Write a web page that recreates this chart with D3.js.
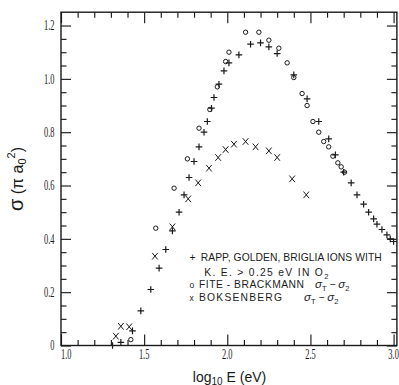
<!DOCTYPE html>
<html>
<head>
<meta charset="utf-8">
<script src="https://cdn.jsdelivr.net/npm/d3@7"></script>
<style>
  html, body { margin: 0; padding: 0; background: #fff; }
  svg { display: block; }
  .lg { font-family: "Liberation Sans", Arial, sans-serif; font-size: 10.3px; fill: #1c1c1c; }
</style>
</head>
<body>
<svg id="chart" width="399" height="385"></svg>
<script>
// Cross section sigma (units of pi a0^2) against log10 of ion energy (eV)
const rappLogE = [1.31, 1.36, 1.43, 1.48, 1.54, 1.59, 1.63, 1.67, 1.71, 1.74, 1.77, 1.80, 1.83, 1.86, 1.88,
  1.905, 1.92, 1.95, 1.98, 2.01, 2.07, 2.14, 2.20, 2.25, 2.30, 2.40, 2.48, 2.55, 2.61, 2.65, 2.70,
  2.745, 2.78, 2.82, 2.85, 2.88, 2.90, 2.93, 2.96, 2.98, 3.00];
const rappSigma = [0.0, 0.012, 0.055, 0.13, 0.21, 0.29, 0.36, 0.43, 0.50, 0.565, 0.63, 0.69, 0.745, 0.80, 0.84,
  0.89, 0.93, 0.98, 1.03, 1.06, 1.09, 1.13, 1.135, 1.12, 1.095, 1.015, 0.925, 0.84, 0.775, 0.715, 0.65,
  0.61, 0.565, 0.53, 0.50, 0.475, 0.455, 0.435, 0.415, 0.40, 0.39];

const fiteLogE = [1.42, 1.57, 1.68, 1.76, 1.83, 1.895, 1.94, 1.99, 2.01, 2.11, 2.19, 2.25, 2.31, 2.36, 2.40,
  2.45, 2.48, 2.515, 2.55, 2.58, 2.61, 2.635, 2.665, 2.685, 2.705];
const fiteSigma = [0.022, 0.44, 0.59, 0.70, 0.815, 0.885, 0.97, 1.065, 1.10, 1.175, 1.175, 1.145, 1.115, 1.06, 1.005,
  0.945, 0.90, 0.84, 0.80, 0.765, 0.745, 0.71, 0.685, 0.67, 0.65];

const boksLogE = [1.33, 1.36, 1.41, 1.565, 1.67, 1.765, 1.825, 1.89, 1.945, 1.99, 2.04, 2.11, 2.17, 2.25, 2.30, 2.39, 2.475];
const boksSigma = [0.035, 0.072, 0.07, 0.335, 0.445, 0.55, 0.61, 0.665, 0.705, 0.735, 0.755, 0.765, 0.745, 0.73, 0.705, 0.625, 0.565];

const xTickValues = [1.0, 1.5, 2.0, 2.5, 3.0];
const xTickLabels = ["1.0", "1.5", "2.0", "2.5", "3.0"];
const yTickValues = [0, 0.2, 0.4, 0.6, 0.8, 1.0, 1.2];
const yTickLabels = ["0", "0.2", "0.4", "0.6", "0.8", "1.0", "1.2"];

const legendLines = ["RAPP, GOLDEN, BRIGLIA IONS WITH", "K. E. > 0.25 eV IN O", "FITE - BRACKMANN", "BOKSENBERG"];

const ink = "#1a1a1a";
const svg = d3.select("#chart");

const x = d3.scaleLinear().domain([1.0, 3.02]).range([61, 396.9]);
const y = d3.scaleLinear().domain([0, 1.25]).range([345.5, 12.2]);

const xMinor = d3.range(1.1, 3.0, 0.1).map(v => +v.toFixed(2)).filter(v => !xTickValues.some(t => Math.abs(t - v) < 1e-6));
const yMinor = d3.range(0.05, 1.25, 0.05).map(v => +v.toFixed(2)).filter(v => !yTickValues.some(t => Math.abs(t - v) < 1e-6));

function tickAxis(axis, translate) {
  const g = svg.append("g").attr("transform", translate).call(axis.tickFormat(() => "").tickSizeOuter(0));
  g.select(".domain").remove();
  g.selectAll("line").attr("stroke", ink).attr("stroke-width", 1.15);
}

// inward ticks on all four sides
tickAxis(d3.axisBottom(x).tickValues(xTickValues).tickSizeInner(-11), `translate(0,${y(0)})`);
tickAxis(d3.axisBottom(x).tickValues(xMinor).tickSizeInner(-5.5), `translate(0,${y(0)})`);
tickAxis(d3.axisTop(x).tickValues(xTickValues).tickSizeInner(-11), `translate(0,${y(1.25)})`);
tickAxis(d3.axisTop(x).tickValues(xMinor).tickSizeInner(-5.5), `translate(0,${y(1.25)})`);
tickAxis(d3.axisLeft(y).tickValues(yTickValues).tickSizeInner(-10), `translate(${x(1.0)},0)`);
tickAxis(d3.axisLeft(y).tickValues(yMinor).tickSizeInner(-5.5), `translate(${x(1.0)},0)`);
tickAxis(d3.axisRight(y).tickValues(yTickValues).tickSizeInner(-10), `translate(${x(3.02)},0)`);
tickAxis(d3.axisRight(y).tickValues(yMinor).tickSizeInner(-5.5), `translate(${x(3.02)},0)`);

// frame
svg.append("rect")
  .attr("x", x(1.0)).attr("y", y(1.25))
  .attr("width", x(3.02) - x(1.0)).attr("height", y(0) - y(1.25))
  .attr("fill", "none").attr("stroke", ink).attr("stroke-width", 1.4);

// tick labels in a narrow serif face
const tickFont = "'Liberation Serif', 'Times New Roman', serif";
svg.append("g").selectAll("text").data(xTickValues).join("text")
  .attr("transform", (d, i) => `translate(${x(d)},359) scale(0.6,1)`)
  .attr("text-anchor", (d, i) => i === 0 ? "start" : "middle")
  .attr("font-family", tickFont).attr("font-size", 14).attr("fill", ink)
  .text((d, i) => xTickLabels[i]);

svg.append("g").selectAll("text").data(yTickValues).join("text")
  .attr("transform", d => `translate(54.5,${y(d) + 4.8}) scale(0.6,1)`)
  .attr("text-anchor", "end")
  .attr("font-family", tickFont).attr("font-size", 14).attr("fill", ink)
  .text((d, i) => yTickLabels[i]);

// axis titles
const xt = svg.append("text")
  .attr("x", 229.5).attr("y", 381.5).attr("text-anchor", "middle")
  .attr("font-family", "'Liberation Sans', Arial, sans-serif").attr("font-size", 14).attr("fill", ink);
xt.append("tspan").text("log");
xt.append("tspan").attr("font-size", 10).attr("dy", 3).text("10");
xt.append("tspan").attr("dy", -3).text(" E (eV)");

const yt = svg.append("text")
  .attr("transform", "translate(23,179) rotate(-90)").attr("text-anchor", "middle")
  .attr("font-family", "'Liberation Sans', Arial, sans-serif").attr("font-size", 16).attr("fill", ink);
yt.append("tspan").attr("font-size", 20).text("σ");
yt.append("tspan").text(" (π a");
yt.append("tspan").attr("font-size", 11).attr("dy", 3).text("0");
yt.append("tspan").attr("font-size", 11).attr("dy", -11).text("2");
yt.append("tspan").attr("dy", 8).text(")");

// markers
const plusPath = "M-3.3,0H3.3M0,-3.3V3.3";
const crossPath = "M-2.8,-3.3L2.8,3.3M2.8,-3.3L-2.8,3.3";

svg.append("g").selectAll("path").data(rappLogE).join("path")
  .attr("transform", (d, i) => `translate(${x(d)},${y(rappSigma[i])})`)
  .attr("d", plusPath).attr("stroke", ink).attr("stroke-width", 1.2).attr("fill", "none");

svg.append("g").selectAll("circle").data(fiteLogE).join("circle")
  .attr("cx", d => x(d)).attr("cy", (d, i) => y(fiteSigma[i])).attr("r", 2.2)
  .attr("stroke", ink).attr("stroke-width", 1).attr("fill", "none");

svg.append("g").selectAll("path").data(boksLogE).join("path")
  .attr("transform", (d, i) => `translate(${x(d)},${y(boksSigma[i])})`)
  .attr("d", crossPath).attr("stroke", ink).attr("stroke-width", 1).attr("fill", "none");

// legend
const lg = svg.append("g").attr("class", "lg");
lg.append("text").attr("x", 189.5).attr("y", 260.5).text("+");
lg.append("text").attr("x", 200.7).attr("y", 260.5).attr("textLength", 181).attr("lengthAdjust", "spacing").text(legendLines[0]);
const l2 = lg.append("text").attr("x", 204.3).attr("y", 276).attr("textLength", 124).attr("lengthAdjust", "spacing");
l2.append("tspan").text(legendLines[1]);
l2.append("tspan").attr("font-size", 7.5).attr("dy", 2.5).text("2");
lg.append("text").attr("x", 189.5).attr("y", 288).attr("font-size", 8.5).text("o");
lg.append("text").attr("x", 199).attr("y", 288).attr("textLength", 105).attr("lengthAdjust", "spacing").text(legendLines[2]);
lg.append("text").attr("x", 189.5).attr("y", 301).attr("font-size", 8.5).text("x");
lg.append("text").attr("x", 199).attr("y", 301).attr("textLength", 83).attr("lengthAdjust", "spacing").text(legendLines[3]);

function sigmaDiff(x0, yb) {
  const t = lg.append("text").attr("x", x0).attr("y", yb);
  t.append("tspan").attr("font-style", "italic").attr("font-size", 11.5).text("σ");
  t.append("tspan").attr("font-size", 7.5).attr("dy", 2.5).text("T");
  t.append("tspan").attr("dy", -2.5).text(" − ");
  t.append("tspan").attr("font-style", "italic").attr("font-size", 11.5).text("σ");
  t.append("tspan").attr("font-size", 7.5).attr("dy", 2.5).text("2");
}
sigmaDiff(315, 288);
sigmaDiff(304, 301);
</script>
</body>
</html>
